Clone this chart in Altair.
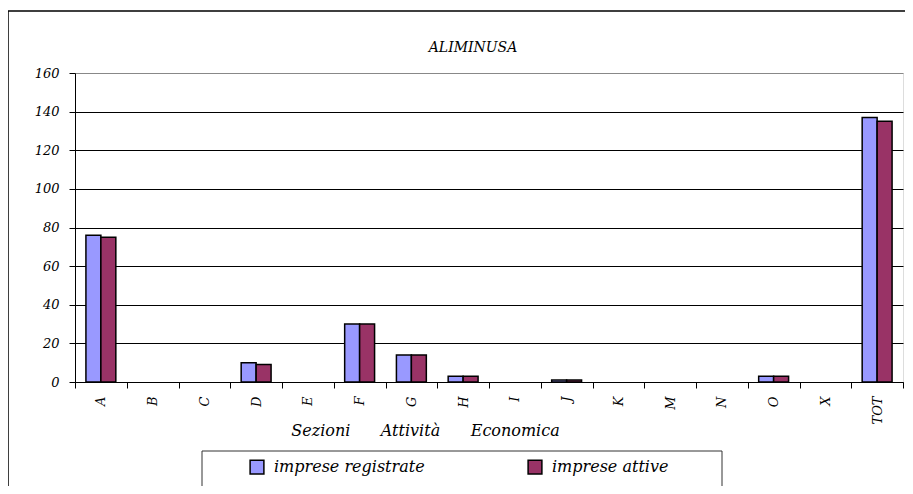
import altair as alt
import pandas as pd

categories = ["A", "B", "C", "D", "E", "F", "G", "H", "I", "J", "K", "M", "N", "O", "X", "TOT"]
registrate = [76, 0, 0, 10, 0, 30, 14, 3, 0, 1, 0, 0, 0, 3, 0, 137]
attive = [75, 0, 0, 9, 0, 30, 14, 3, 0, 1, 0, 0, 0, 3, 0, 135]
series = ["imprese registrate", "imprese attive"]
colors = ["#9999FF", "#993366"]
y_ticks = [0, 20, 40, 60, 80, 100, 120, 140, 160]
title_text = "ALIMINUSA"
x_title = "Sezioni" + "\u00a0" * 6 + "Attività" + "\u00a0" * 6 + "Economica"

rows = []
for c, r, a in zip(categories, registrate, attive):
    rows.append({"cat": c, "serie": series[0], "val": r})
    rows.append({"cat": c, "serie": series[1], "val": a})
df = pd.DataFrame(rows)

FONT = "DejaVu Serif"

bars = alt.Chart(df).transform_filter("datum.val > 0").mark_bar(stroke="black", strokeWidth=1.5).encode(
    x=alt.X(
        "cat:N",
        sort=categories,
        scale=alt.Scale(domain=categories, paddingInner=0, paddingOuter=0),
        axis=alt.Axis(
            title=x_title,
            labelAngle=270,
            tickBand="extent",
            grid=False,
            domainColor="black",
            tickColor="black",
            tickSize=6,
            labelPadding=8,
            labelFont=FONT,
            labelFontStyle="italic",
            labelFontSize=13,
            labelColor="black",
            titleFont=FONT,
            titleFontStyle="italic",
            titleFontWeight="normal",
            titleFontSize=16,
            titleColor="black",
            titleX=350,
            titleY=53,
            titleBaseline="alphabetic",
            titleAlign="center",
        ),
    ),
    xOffset=alt.XOffset("serie:N", sort=series, scale=alt.Scale(domain=series, paddingInner=0, paddingOuter=0.73)),
    y=alt.Y(
        "val:Q",
        scale=alt.Scale(domain=[0, 160], nice=False),
        axis=alt.Axis(
            title=None,
            values=y_ticks,
            domainColor="black",
            tickColor="black",
            tickSize=6,
            labelPadding=10,
            labelFont=FONT,
            labelFontStyle="italic",
            labelFontSize=13,
            labelColor="black",
            gridColor={"condition": {"test": "datum.value == 160", "value": "#888888"}, "value": "black"},
            gridWidth=1,
        ),
    ),
    color=alt.Color(
        "serie:N",
        sort=series,
        scale=alt.Scale(domain=series, range=colors),
        legend=alt.Legend(
            title=None,
            orient="none",
            direction="horizontal",
            legendX=174,
            legendY=386,
            symbolType="square",
            symbolSize=190,
            symbolStrokeColor="black",
            symbolStrokeWidth=1.5,
            symbolOpacity=1,
            labelFont=FONT,
            labelFontStyle="italic",
            labelFontSize=16,
            labelColor="black",
            labelOffset=9,
            labelLimit=300,
            columnPadding=100,
            padding=0,
        ),
    ),
)

legend_box = alt.Chart(pd.DataFrame({"k": [0]})).mark_rect(
    filled=False, stroke="#333333", strokeWidth=1
).encode(
    x=alt.value(127), x2=alt.value(647), y=alt.value(378), y2=alt.value(414)
)

outer_box = alt.Chart(pd.DataFrame({"k": [0]})).mark_rect(
    filled=False, stroke="black", strokeWidth=1.5
).encode(
    x=alt.value(-67), x2=alt.value(900), y=alt.value(-62), y2=alt.value(500)
)

title_mark = alt.Chart(pd.DataFrame({"t": [title_text]})).mark_text(
    font=FONT, fontStyle="italic", fontSize=14, color="black", baseline="alphabetic", align="center"
).encode(text="t:N", x=alt.value(398), y=alt.value(-21))

chart = alt.layer(outer_box, bars, legend_box, title_mark).properties(
    width=828,
    height=309,
    autosize=alt.AutoSizeParams(type="none"),
    padding={"left": 67, "top": 65, "right": 2, "bottom": 104},
).configure_view(stroke="#888888", strokeWidth=1).configure(background="white")

chart.save("out.html", embed_options={"renderer": "svg", "actions": False})
